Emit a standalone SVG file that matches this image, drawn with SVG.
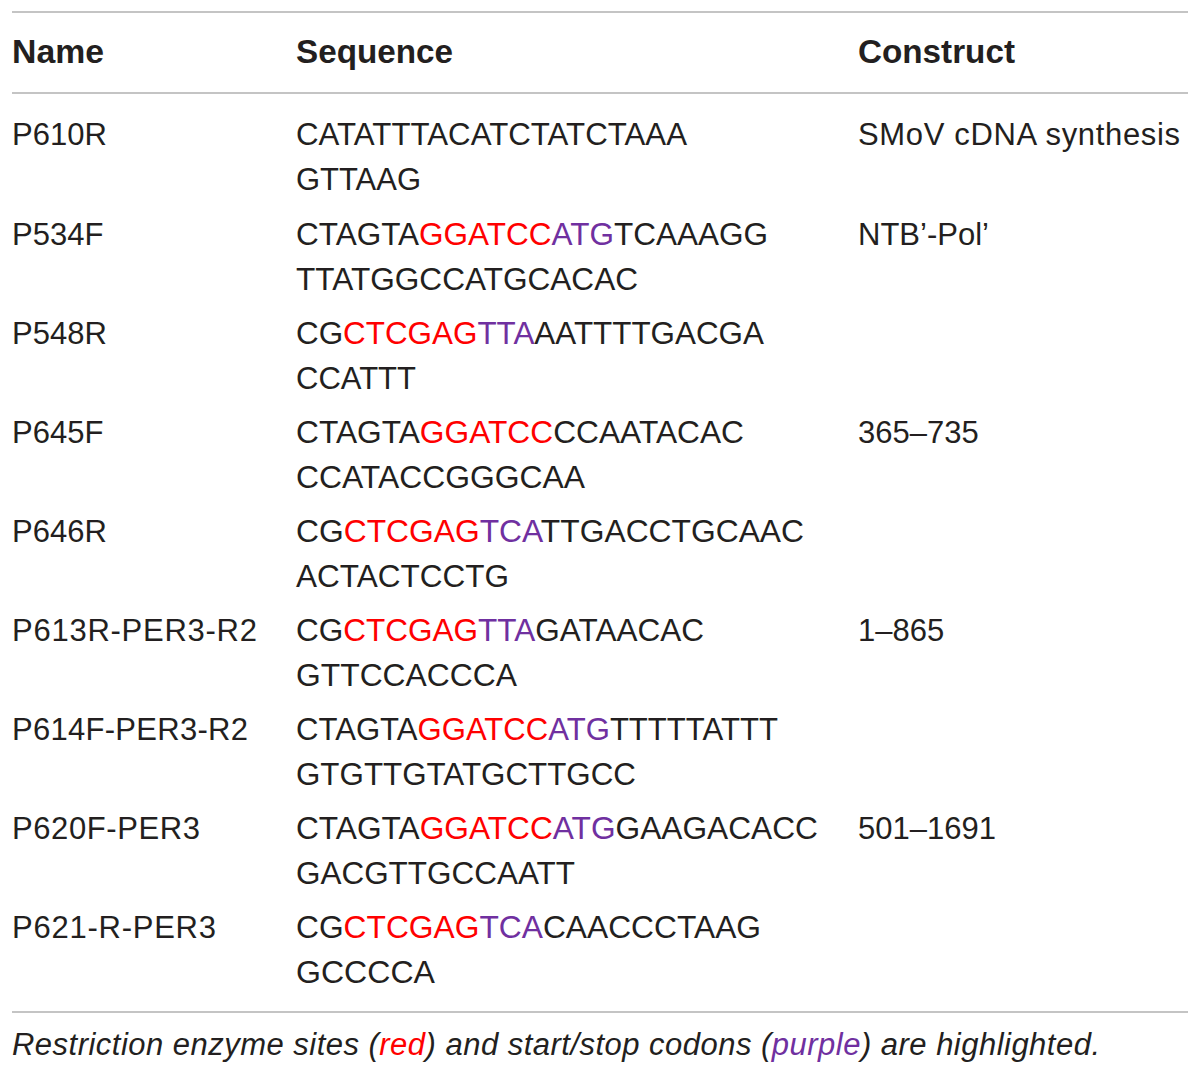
<svg xmlns="http://www.w3.org/2000/svg" width="1200" height="1075" viewBox="0 0 1200 1075">
<style>
text{font-family:"Liberation Sans",Arial,Helvetica,sans-serif;font-size:31px;fill:#231f20}
.h{font-weight:bold;font-size:33.5px}
.r{fill:#ff0000}
.p{fill:#7030a0}
.cap{font-style:italic}
.rule{stroke:#c4c4c4;stroke-width:2}
</style>
<rect width="1200" height="1075" fill="#ffffff"/>
<g id="rules">
<line class="rule" x1="12" y1="12" x2="1188" y2="12"/>
<line class="rule" x1="12" y1="93" x2="1188" y2="93"/>
<line class="rule" x1="12" y1="1012" x2="1188" y2="1012"/>
</g>
<g id="header">
<text class="h" x="12" y="63" textLength="92" lengthAdjust="spacingAndGlyphs">Name</text>
<text class="h" x="296" y="63" textLength="157" lengthAdjust="spacingAndGlyphs">Sequence</text>
<text class="h" x="858" y="63" textLength="157" lengthAdjust="spacingAndGlyphs">Construct</text>
</g>
<g id="row-P610R">
<text x="12" y="145">P610R</text>
<text x="296" y="145" textLength="391" lengthAdjust="spacingAndGlyphs">CATATTTACATCTATCTAAA</text>
<text x="296" y="190" textLength="125" lengthAdjust="spacingAndGlyphs">GTTAAG</text>
<text x="858" y="145" textLength="322">SMoV cDNA synthesis</text>
</g>
<g id="row-P534F">
<text x="12" y="245">P534F</text>
<text x="296" y="245" textLength="472" lengthAdjust="spacingAndGlyphs">CTAGTA<tspan class="r">GGATCC</tspan><tspan class="p">ATG</tspan>TCAAAGG</text>
<text x="296" y="290" textLength="342" lengthAdjust="spacingAndGlyphs">TTATGGCCATGCACAC</text>
<text x="858" y="245">NTB’-Pol’</text>
</g>
<g id="row-P548R">
<text x="12" y="344">P548R</text>
<text x="296" y="344" textLength="468" lengthAdjust="spacingAndGlyphs">CG<tspan class="r">CTCGAG</tspan><tspan class="p">TTA</tspan>AATTTTGACGA</text>
<text x="296" y="389" textLength="120" lengthAdjust="spacingAndGlyphs">CCATTT</text>
</g>
<g id="row-P645F">
<text x="12" y="443">P645F</text>
<text x="296" y="443" textLength="448" lengthAdjust="spacingAndGlyphs">CTAGTA<tspan class="r">GGATCC</tspan>CCAATACAC</text>
<text x="296" y="488" textLength="289" lengthAdjust="spacingAndGlyphs">CCATACCGGGCAA</text>
<text x="858" y="443">365–735</text>
</g>
<g id="row-P646R">
<text x="12" y="542">P646R</text>
<text x="296" y="542" textLength="508" lengthAdjust="spacingAndGlyphs">CG<tspan class="r">CTCGAG</tspan><tspan class="p">TCA</tspan>TTGACCTGCAAC</text>
<text x="296" y="587" textLength="213" lengthAdjust="spacingAndGlyphs">ACTACTCCTG</text>
</g>
<g id="row-P613R">
<text x="12" y="641" textLength="245">P613R-PER3-R2</text>
<text x="296" y="641" textLength="408" lengthAdjust="spacingAndGlyphs">CG<tspan class="r">CTCGAG</tspan><tspan class="p">TTA</tspan>GATAACAC</text>
<text x="296" y="686" textLength="221" lengthAdjust="spacingAndGlyphs">GTTCCACCCA</text>
<text x="858" y="641">1–865</text>
</g>
<g id="row-P614F">
<text x="12" y="740" textLength="236">P614F-PER3-R2</text>
<text x="296" y="740" textLength="482" lengthAdjust="spacingAndGlyphs">CTAGTA<tspan class="r">GGATCC</tspan><tspan class="p">ATG</tspan>TTTTTATTT</text>
<text x="296" y="785" textLength="340" lengthAdjust="spacingAndGlyphs">GTGTTGTATGCTTGCC</text>
</g>
<g id="row-P620F">
<text x="12" y="839" textLength="188">P620F-PER3</text>
<text x="296" y="839" textLength="522" lengthAdjust="spacingAndGlyphs">CTAGTA<tspan class="r">GGATCC</tspan><tspan class="p">ATG</tspan>GAAGACACC</text>
<text x="296" y="884" textLength="279" lengthAdjust="spacingAndGlyphs">GACGTTGCCAATT</text>
<text x="858" y="839">501–1691</text>
</g>
<g id="row-P621">
<text x="12" y="938" textLength="204">P621-R-PER3</text>
<text x="296" y="938" textLength="465" lengthAdjust="spacingAndGlyphs">CG<tspan class="r">CTCGAG</tspan><tspan class="p">TCA</tspan>CAACCCTAAG</text>
<text x="296" y="983" textLength="139" lengthAdjust="spacingAndGlyphs">GCCCCA</text>
</g>
<g id="caption">
<text class="cap" x="12" y="1055" textLength="1088">Restriction enzyme sites (<tspan class="r">red</tspan>) and start/stop codons (<tspan class="p">purple</tspan>) are highlighted.</text>
</g>
</svg>
